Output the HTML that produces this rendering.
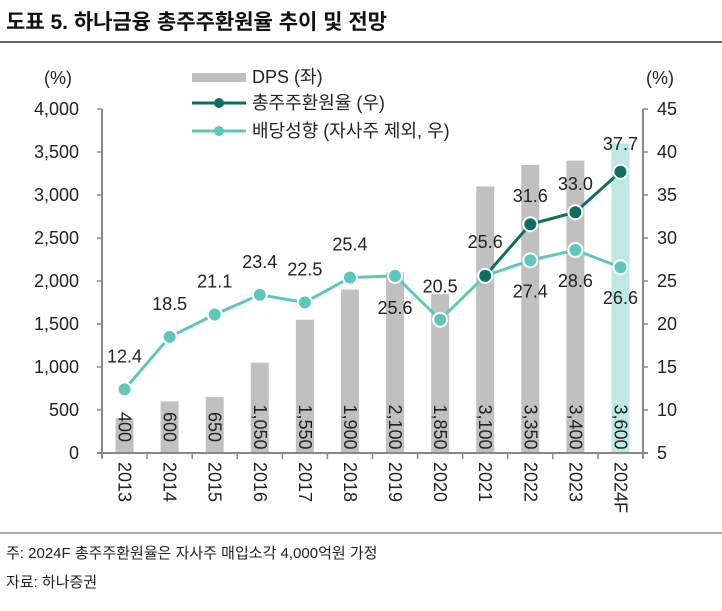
<!DOCTYPE html>
<html><head><meta charset="utf-8"><style>
body{margin:0;background:#fff;width:722px;height:606px;overflow:hidden;font-family:"Liberation Sans","Noto Sans CJK KR",sans-serif}
</style></head><body>
<svg width="722" height="606" xmlns="http://www.w3.org/2000/svg" font-family="Liberation Sans, Noto Sans CJK KR, sans-serif">
<text x="6" y="29" font-size="21" font-weight="bold" fill="#111">도표 5. 하나금융 총주주환원율 추이 및 전망</text>
<line x1="0" y1="42" x2="722" y2="42" stroke="#333" stroke-width="1.5"/>
<line x1="0" y1="533" x2="722" y2="533" stroke="#555" stroke-width="1"/>
<text x="6" y="558" font-size="15" fill="#222">주: 2024F 총주주환원율은 자사주 매입소각 4,000억원 가정</text>
<text x="6" y="587" font-size="15" fill="#222">자료: 하나증권</text>
<g id="chart"></g>
</svg>
<script>
const categories=["2013","2014","2015","2016","2017","2018","2019","2020","2021","2022","2023","2024F"];
const dps=[400,600,650,1050,1550,1900,2100,1850,3100,3350,3400,3600];
const totalReturn=[null,null,null,null,null,null,null,null,25.6,31.6,33.0,37.7];
const payout=[12.4,18.5,21.1,23.4,22.5,25.4,25.6,20.5,25.6,27.4,28.6,26.6];
const leftTicks=[0,500,1000,1500,2000,2500,3000,3500,4000];
const rightTicks=[5,10,15,20,25,30,35,40,45];
const NS="http://www.w3.org/2000/svg";
const g=document.getElementById('chart');
const X0=102,X1=643,Y0=453,Y1=109;
const FS=18;
const step=(X1-X0)/categories.length;
const xs=i=>X0+step*(i+0.5);
const yl=v=>Y0-(v/4000)*(Y0-Y1);
const yr=v=>Y0-((v-5)/40)*(Y0-Y1);
function el(t,a,txt){const e=document.createElementNS(NS,t);for(const k in a)e.setAttribute(k,a[k]);if(txt!=null)e.textContent=txt;g.appendChild(e);return e;}
dps.forEach((v,i)=>{
 const b=el('rect',{x:xs(i)-9,y:yl(v),width:18,height:Y0-yl(v),fill:i==11?'#bfe8e1':'#c0c0c0'});
 
 
 const cx=xs(i),cy=Y0-26;
 const t=el('text',{x:cx,y:cy,'font-size':FS,fill:'#222','text-anchor':'middle','dominant-baseline':'central',transform:`rotate(90 ${cx} ${cy})`},v.toLocaleString('en-US'));
 
 
});
let a=el('line',{x1:X0,y1:Y1,x2:X0,y2:Y0+5,stroke:'#888','stroke-width':2});

a=el('line',{x1:X1,y1:Y1,x2:X1,y2:Y0+5,stroke:'#888','stroke-width':2});

a=el('line',{x1:X0-5,y1:Y0,x2:X1+5,y2:Y0,stroke:'#888','stroke-width':2});

for(let i=0;i<=categories.length;i++){el('line',{x1:X0+step*i,y1:Y0,x2:X0+step*i,y2:Y0+6,stroke:'#888','stroke-width':1.5});}
leftTicks.forEach(v=>{
 el('line',{x1:X0-5,y1:yl(v),x2:X0,y2:yl(v),stroke:'#888','stroke-width':1.5});
 const t=el('text',{x:79,y:yl(v)+6,'font-size':FS,fill:'#222','text-anchor':'end'},v.toLocaleString('en-US'));
 
});
rightTicks.forEach(v=>{
 el('line',{x1:X1,y1:yr(v),x2:X1+5,y2:yr(v),stroke:'#888','stroke-width':1.5});
 const t=el('text',{x:657,y:yr(v)+6,'font-size':FS,fill:'#222'},v);
 
});
categories.forEach((c,i)=>{
 const cx=xs(i),cy=462;
 const t=el('text',{x:cx,y:cy,'font-size':FS,fill:'#222','dominant-baseline':'central',transform:`rotate(90 ${cx} ${cy})`},c);
 
});
let u=el('text',{x:44,y:84,'font-size':FS,fill:'#222'},'(%)');
u=el('text',{x:646,y:84,'font-size':FS,fill:'#222'},'(%)');
function series(vals,color,name){
 const pts=[];vals.forEach((v,i)=>{if(v!=null)pts.push([xs(i),yr(v)]);});
 const p=el('polyline',{points:pts.map(q=>q.join(',')).join(' '),fill:'none',stroke:color,'stroke-width':3});
 
 pts.forEach(q=>{const c=el('circle',{cx:q[0],cy:q[1],r:7,fill:color,stroke:'#fff','stroke-width':2});
 });
}
series(payout,'#5ec8b8','payout');
series(totalReturn,'#0e6e62','total-return');
const payoutOff=[[0,-27],[0,-27],[0,-27],[0,-27],[0,-27],[0,-27],[0,38],[0,-27],[0,-28],[0,37],[0,37],[0,37]];
payout.forEach((v,i)=>{const t=el('text',{x:xs(i)+payoutOff[i][0],y:yr(v)+payoutOff[i][1],'font-size':FS,fill:'#222','text-anchor':'middle'},v.toFixed(1));
 });
totalReturn.forEach((v,i)=>{if(v==null||i==8)return;const t=el('text',{x:xs(i),y:yr(v)-22,'font-size':FS,fill:'#222','text-anchor':'middle'},v.toFixed(1));
 });
let l=el('rect',{x:192,y:73,width:54,height:9,fill:'#c0c0c0'});
l=el('text',{x:252,y:83,'font-size':FS,fill:'#222'},'DPS (좌)');
el('line',{x1:192,y1:103,x2:246,y2:103,stroke:'#0e6e62','stroke-width':3});
el('circle',{cx:219,cy:103,r:5,fill:'#0e6e62'});
l=el('text',{x:252,y:109,'font-size':FS,fill:'#222'},'총주주환원율 (우)');
el('line',{x1:192,y1:131,x2:246,y2:131,stroke:'#5ec8b8','stroke-width':3});
el('circle',{cx:219,cy:131,r:5,fill:'#5ec8b8'});
l=el('text',{x:252,y:137,'font-size':FS,fill:'#222'},'배당성향 (자사주 제외, 우)');
</script>
</body></html>
